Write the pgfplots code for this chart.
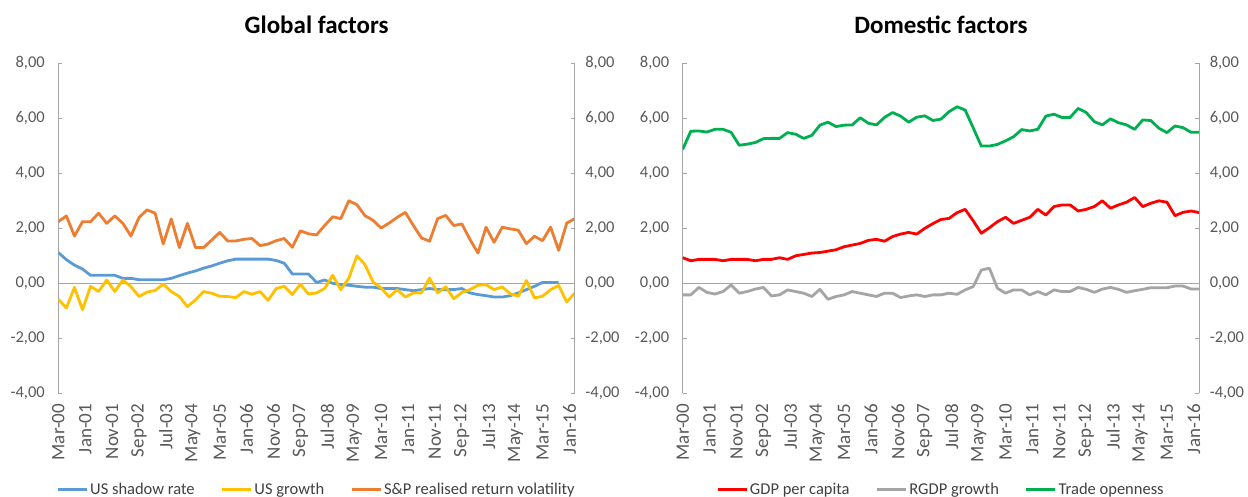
\documentclass[border=0pt]{standalone}
\usepackage{fontspec}
\setmainfont{Carlito}
\usepackage{pgfplots}
\usepackage{pgfplotstable}
\pgfplotsset{compat=1.18}
\definecolor{cblue}{HTML}{5B9BD5}
\definecolor{cyellow}{HTML}{FFC000}
\definecolor{corange}{HTML}{ED7D31}
\definecolor{cred}{HTML}{FF0000}
\definecolor{cgray}{HTML}{A5A5A5}
\definecolor{cgreen}{HTML}{00B050}
\definecolor{axgray}{HTML}{A6A6A6}
\definecolor{txtgray}{HTML}{595959}
\definecolor{legtxt}{HTML}{404040}

\pgfplotstableread{
i blue yellow orange
0 1.12 -0.58 2.24
1 0.86 -0.90 2.45
2 0.66 -0.15 1.72
3 0.52 -0.96 2.24
4 0.29 -0.11 2.24
5 0.29 -0.30 2.55
6 0.29 0.12 2.18
7 0.29 -0.30 2.45
8 0.18 0.12 2.18
9 0.18 -0.12 1.72
10 0.13 -0.48 2.39
11 0.13 -0.32 2.67
12 0.13 -0.26 2.55
13 0.13 -0.03 1.43
14 0.18 -0.30 2.34
15 0.28 -0.48 1.30
16 0.37 -0.85 2.18
17 0.45 -0.60 1.30
18 0.55 -0.30 1.30
19 0.63 -0.36 1.57
20 0.73 -0.47 1.85
21 0.82 -0.48 1.54
22 0.88 -0.52 1.54
23 0.88 -0.30 1.60
24 0.88 -0.40 1.63
25 0.88 -0.30 1.37
26 0.88 -0.62 1.43
27 0.83 -0.19 1.55
28 0.73 -0.11 1.63
29 0.34 -0.41 1.31
30 0.34 -0.03 1.91
31 0.34 -0.39 1.80
32 0.03 -0.35 1.76
33 0.12 -0.19 2.10
34 0.00 0.29 2.42
35 -0.05 -0.23 2.35
36 -0.07 0.19 3.00
37 -0.11 1.00 2.86
38 -0.14 0.68 2.46
39 -0.14 0.05 2.29
40 -0.19 -0.17 2.01
41 -0.19 -0.50 2.19
42 -0.19 -0.23 2.40
43 -0.23 -0.50 2.58
44 -0.27 -0.35 2.10
45 -0.23 -0.35 1.65
46 -0.19 0.19 1.53
47 -0.23 -0.35 2.35
48 -0.23 -0.13 2.47
49 -0.23 -0.56 2.10
50 -0.19 -0.33 2.16
51 -0.35 -0.23 1.60
52 -0.41 -0.07 1.10
53 -0.45 -0.05 2.04
54 -0.50 -0.23 1.49
55 -0.50 -0.13 2.04
56 -0.45 -0.38 1.98
57 -0.35 -0.47 1.93
58 -0.23 0.10 1.44
59 -0.11 -0.53 1.71
60 0.03 -0.47 1.55
61 0.03 -0.23 2.04
62 0.03 -0.08 1.20
63 nan -0.68 2.19
64 nan -0.35 2.35
}\globaldata

\pgfplotstableread{
i red gray green
0 0.93 -0.42 4.87
1 0.82 -0.42 5.53
2 0.87 -0.15 5.54
3 0.87 -0.33 5.50
4 0.87 -0.39 5.60
5 0.82 -0.30 5.60
6 0.87 -0.06 5.49
7 0.87 -0.36 5.02
8 0.87 -0.30 5.06
9 0.82 -0.21 5.12
10 0.87 -0.15 5.26
11 0.87 -0.46 5.27
12 0.93 -0.42 5.27
13 0.87 -0.24 5.48
14 1.00 -0.30 5.42
15 1.05 -0.36 5.27
16 1.10 -0.48 5.38
17 1.12 -0.22 5.75
18 1.17 -0.58 5.86
19 1.22 -0.48 5.70
20 1.33 -0.42 5.75
21 1.39 -0.30 5.76
22 1.45 -0.36 6.02
23 1.56 -0.42 5.82
24 1.60 -0.48 5.76
25 1.53 -0.36 6.03
26 1.70 -0.36 6.21
27 1.79 -0.52 6.08
28 1.85 -0.46 5.86
29 1.79 -0.42 6.04
30 2.00 -0.48 6.09
31 2.17 -0.42 5.92
32 2.32 -0.42 5.97
33 2.36 -0.36 6.24
34 2.57 -0.40 6.42
35 2.69 -0.24 6.30
36 2.27 -0.12 5.65
37 1.82 0.48 4.99
38 2.02 0.55 4.99
39 2.24 -0.18 5.05
40 2.40 -0.36 5.18
41 2.18 -0.24 5.33
42 2.29 -0.24 5.59
43 2.40 -0.42 5.54
44 2.69 -0.30 5.60
45 2.48 -0.42 6.08
46 2.79 -0.24 6.15
47 2.85 -0.30 6.03
48 2.85 -0.30 6.03
49 2.63 -0.15 6.36
50 2.69 -0.22 6.21
51 2.79 -0.33 5.88
52 3.00 -0.21 5.76
53 2.73 -0.15 5.98
54 2.85 -0.22 5.84
55 2.95 -0.33 5.76
56 3.12 -0.27 5.60
57 2.79 -0.22 5.94
58 2.91 -0.16 5.92
59 3.00 -0.16 5.64
60 2.95 -0.16 5.48
61 2.46 -0.10 5.72
62 2.58 -0.10 5.66
63 2.63 -0.21 5.49
64 2.57 -0.21 5.49
}\domesticdata

\pgfplotsset{
  base/.style={
    scale only axis, width=516.5pt, height=330pt,
    xmin=0, xmax=192, ymin=-4, ymax=8,
    ytick={-4,-2,0,2,4,6,8},
    yticklabels={{-4,00},{-2,00},{0,00},{2,00},{4,00},{6,00},{8,00}},
    y tick label style={font=\fontsize{16.5}{16.5}\selectfont, text=txtgray},
    ytick align=inside, major tick length=4pt,
    y axis line style={axgray, line width=0.9pt, -},
    ytick style={axgray, line width=0.9pt},
  },
  main/.style={
    base, axis y line*=left, axis x line*=bottom,
    x axis line style={draw=none, -}, xtick style={draw=none},
    xtick={0,10,...,190},
    xticklabels={Mar-00,Jan-01,Nov-01,Sep-02,Jul-03,May-04,Mar-05,Jan-06,Nov-06,Sep-07,Jul-08,May-09,Mar-10,Jan-11,Nov-11,Sep-12,Jul-13,May-14,Mar-15,Jan-16},
    x tick label style={rotate=90, anchor=east, font=\fontsize{19}{19}\selectfont, text=txtgray},
    xticklabel shift=7pt,
    y tick label style={xshift=-10pt},
    legend style={at={(0.5,-0.291)}, anchor=center, draw=none, fill=none,
      legend columns=3, font=\fontsize{16.5}{16.5}\selectfont, text=legtxt,
      /tikz/every even column/.append style={column sep=24pt},
      inner sep=0pt, nodes={inner xsep=2pt, inner ysep=1pt}},
    legend image code/.code={\draw[#1] (0pt,0pt) -- (29pt,0pt);},
    every axis plot/.append style={line width=2.8pt, line join=round},
  },
  second/.style={
    base, axis y line*=right, axis x line=none,
    y tick label style={xshift=7pt},
  },
}

\begin{document}
\begin{tikzpicture}
\path[use as bounding box] (0,0) rectangle (1248pt,496pt);

\node[font=\fontsize{25}{25}\selectfont\bfseries] at (316.6pt,471pt) {Global factors};
\node[font=\fontsize{25}{25}\selectfont\bfseries] at (941pt,471pt) {Domestic factors};

% ---------- Global factors ----------
\begin{axis}[main, at={(58.3pt,102.7pt)}, anchor=south west]
\addplot[forget plot, axgray, line width=0.9pt] coordinates {(0,0) (192,0)};
\addplot[cblue] table[x expr=3*\thisrow{i}, y=blue] {\globaldata};
\addlegendentry{US shadow rate}
\addplot[cyellow] table[x expr=3*\thisrow{i}, y=yellow] {\globaldata};
\addlegendentry{US growth}
\addplot[corange] table[x expr=3*\thisrow{i}, y=orange] {\globaldata};
\addlegendentry{S\&P realised return volatility}
\end{axis}
\begin{axis}[second, at={(58.3pt,102.7pt)}, anchor=south west]
\end{axis}

% ---------- Domestic factors ----------
\begin{axis}[main, at={(682.7pt,102.7pt)}, anchor=south west]
\addplot[forget plot, axgray, line width=0.9pt] coordinates {(0,0) (192,0)};
\addplot[cred] table[x expr=3*\thisrow{i}, y=red] {\domesticdata};
\addlegendentry{GDP per capita}
\addplot[cgray] table[x expr=3*\thisrow{i}, y=gray] {\domesticdata};
\addlegendentry{RGDP growth}
\addplot[cgreen] table[x expr=3*\thisrow{i}, y=green] {\domesticdata};
\addlegendentry{Trade openness}
\end{axis}
\begin{axis}[second, at={(682.7pt,102.7pt)}, anchor=south west]
\end{axis}
\end{tikzpicture}
\end{document}
